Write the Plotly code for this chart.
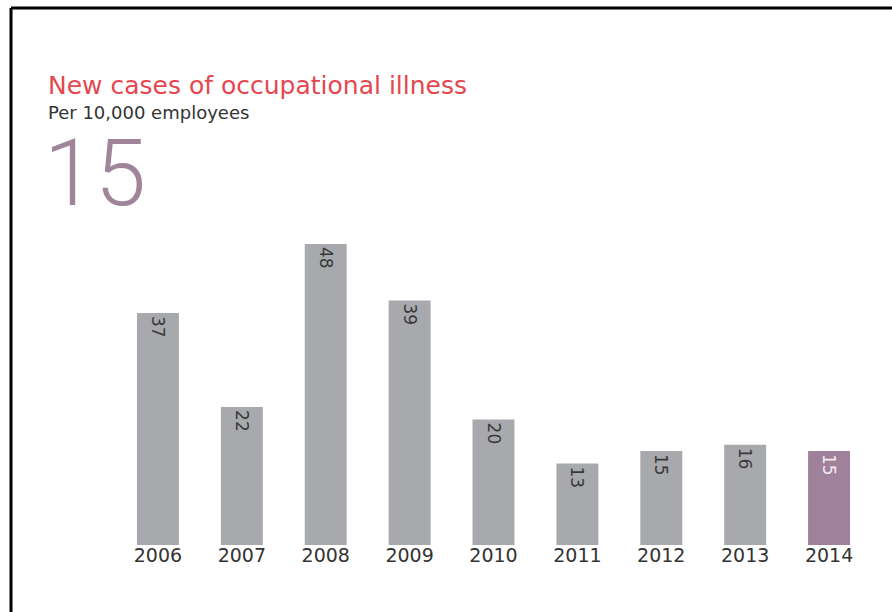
import plotly.graph_objects as go

years = ["2006", "2007", "2008", "2009", "2010", "2011", "2012", "2013", "2014"]
values = [37, 22, 48, 39, 20, 13, 15, 16, 15]
bar_colors = ["#A7A9AC"] * 8 + ["#A0819B"]
label_colors = ["#3a3a3a"] * 8 + ["#F2EAF0"]
title = "New cases of occupational illness"
subtitle = "Per 10,000 employees"
headline = "15"

W, H = 892, 612

fig = go.Figure(go.Bar(
    x=years, y=values,
    marker=dict(color=bar_colors, line=dict(width=0)),
    text=[str(v) for v in values],
    textposition="inside",
    insidetextanchor="end",
    textangle=90,
    constraintext="none",
    insidetextfont=dict(family="DejaVu Sans", size=17, color=label_colors),
    hoverinfo="skip",
))

fig.update_layout(
    width=W, height=H,
    margin=dict(l=0, r=0, t=0, b=0),
    paper_bgcolor="white", plot_bgcolor="white",
    bargap=0.5,
    showlegend=False,
    xaxis=dict(domain=[116 / W, 871 / W], range=[-0.5, 8.5], showgrid=False,
               showline=False, ticks="", zeroline=False,
               tickfont=dict(family="DejaVu Sans", size=19, color="#333333"),
               ticklabelstandoff=-3),
    yaxis=dict(domain=[(H - 545) / H, (H - 231.5) / H], range=[0, 50],
               visible=False, showgrid=False, zeroline=False),
    shapes=[
        dict(type="line", xref="paper", yref="paper", x0=11 / W, x1=1.0,
             y0=1 - 8 / H, y1=1 - 8 / H, line=dict(color="black", width=3)),
        dict(type="line", xref="paper", yref="paper", x0=11 / W, x1=11 / W,
             y0=0, y1=1 - 8 / H, line=dict(color="black", width=3)),
    ],
    annotations=[
        dict(text=title, xref="paper", yref="paper", x=46 / W, y=1 - 86 / H,
             xanchor="left", yanchor="middle", showarrow=False,
             font=dict(family="DejaVu Sans", size=25, color="#E5474F")),
        dict(text=subtitle, xref="paper", yref="paper", x=46 / W, y=1 - 112 / H,
             xanchor="left", yanchor="middle", showarrow=False,
             font=dict(family="DejaVu Sans", size=18, color="#333333")),
        dict(text=headline, xref="paper", yref="paper", x=42 / W, y=1 - 173 / H,
             xanchor="left", yanchor="middle", showarrow=False,
             font=dict(family="Roboto", size=92, color="#A0849A", weight=300)),
    ],
)

fig.write_html("out.html")
